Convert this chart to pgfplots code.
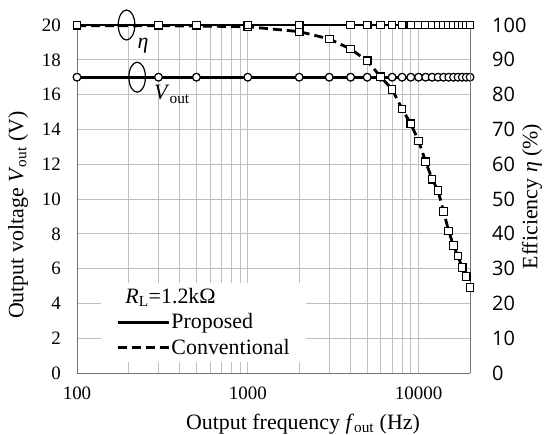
\documentclass[border=0pt]{standalone}
\usepackage{fontspec}
\setmainfont{Liberation Serif}
\newfontfamily\sansnum{Open Sans}
\usepackage{pgfplots}
\pgfplotsset{compat=1.18}

\pgfplotsset{
  prop/.style={black, line width=2.8bp, mark size=3.8bp,
    mark options={solid, fill=white, line width=1.1bp}},
  conv/.style={prop, dash pattern=on 9bp off 5bp},
}

\begin{document}
\begin{tikzpicture}
% left axis: output voltage
\begin{axis}[
  scale only axis, width=393bp, height=348bp,
  xmode=log, xmin=100, xmax=20000, clip=false,
  major tick length=0pt, minor tick length=0pt,
  /pgf/number format/assume math mode=true,
  tick label style={font=\fontsize{19}{22}\selectfont},
  label style={font=\fontsize{22}{26}\selectfont},
  axis line style={draw=gray!90!black, line width=0.8bp, -},
  ymin=0, ymax=20, ytick={0,2,...,20},
  axis x line*=bottom, axis y line*=left,
  xtick={100,1000,10000}, xticklabels={100,1000,10000},
  minor xtick={200,300,400,500,600,700,800,900,2000,3000,4000,5000,6000,7000,8000,9000},
  xmajorgrids, xminorgrids, ymajorgrids,
  grid style={draw=gray!50, line width=0.8bp},
  xticklabel style={anchor=base, inner sep=0pt, yshift=-26bp},
  yticklabel style={anchor=east, inner sep=0pt, xshift=-16bp},
  xlabel={Output frequency \textit{f}\textsubscript{out} (Hz)},
  xlabel style={at={(axis description cs:0.575,-0.161)}, anchor=base},
  ylabel={Output voltage \textit{V}\textsubscript{out} (V)},
  ylabel style={at={(axis description cs:-0.150,0.454)}, anchor=center},
]
% conventional Vout (under the proposed one)
\addplot[conv, mark=*] coordinates {
  (100,17) (300,17) (500,17) (1000,17) (2000,17) (3000,17) (4000,17)
  (5000,17) (6000,17) (7000,17) (8000,17) (9000,17) (10000,17)
  (11000,17) (12000,17) (13000,17) (14000,17) (15000,17) (16000,17)
  (17000,17) (18000,17) (19000,17) (20000,17)};
% proposed Vout
\addplot[prop, mark=*] coordinates {
  (100,17) (300,17) (500,17) (1000,17) (2000,17) (3000,17) (4000,17)
  (5000,17) (6000,17) (7000,17) (8000,17) (9000,17) (10000,17)
  (11000,17) (12000,17) (13000,17) (14000,17) (15000,17) (16000,17)
  (17000,17) (18000,17) (19000,17) (20000,17)};
% annotations
\draw[black, line width=1.2bp] (axis cs:195,20) ellipse [x radius=8.3bp, y radius=15bp];
\draw[black, line width=1.2bp] (axis cs:225,17) ellipse [x radius=8.3bp, y radius=15bp];
\node[font=\fontsize{22}{26}\selectfont] at (axis cs:244,18.8) {\textit{η}};
\node[font=\fontsize{22}{26}\selectfont, anchor=base west, inner sep=0pt]
  at (axis cs:282,15.69) {\textit{V}\textsubscript{out}};
\end{axis}
% right axis: efficiency
\begin{axis}[
  scale only axis, width=393bp, height=348bp,
  xmode=log, xmin=100, xmax=20000, clip=false,
  major tick length=0pt, minor tick length=0pt,
  label style={font=\fontsize{22}{26}\selectfont},
  axis line style={draw=gray!90!black, line width=0.8bp, -},
  ymin=0, ymax=100, ytick={0,10,...,100},
  axis x line=none, axis y line*=right,
  /pgf/number format/assume math mode=true,
  yticklabel style={anchor=west, inner sep=0pt, xshift=22bp,
    font=\fontsize{20}{24}\sansnum},
  ylabel={Efficiency \textit{η} (\%)},
  ylabel style={at={(axis description cs:1.158,0.507)}, anchor=center, inner sep=0pt},
  legend style={at={(axis description cs:0.061,0.032)}, anchor=south west,
    draw=none, fill=white, inner xsep=15bp, inner ysep=4bp,
    font=\fontsize{22}{26}\selectfont, row sep=4.5bp,
    nodes={inner xsep=1.5bp, inner ysep=2bp}},
  legend cell align=left,
  legend image code/.code={\draw[#1] (0bp,0bp) -- (51bp,0bp);},
]
% conventional efficiency
\addplot[conv, mark=square*, forget plot] coordinates {
  (100,99.8) (300,99.8) (500,99.7) (1000,99.5) (2000,98.1) (3000,96.0)
  (4000,93.1) (5000,89.7) (6000,85.1) (7000,81.5) (8000,75.9) (9000,71.6)
  (10000,66.7) (11000,60.7) (12000,55.7) (13000,52.4) (14000,46.4)
  (15000,40.8) (16000,36.6) (17000,33.6) (18000,30.3) (19000,27.7)
  (20000,24.6)};
% proposed efficiency
\addplot[prop, mark=square*, forget plot] coordinates {
  (100,100) (300,100) (500,100) (1000,100) (2000,100) (4000,100)
  (5000,100) (6000,100) (7000,100) (8000,100) (9000,100) (10000,100)
  (11000,100) (12000,100) (13000,100) (14000,100) (15000,100)
  (16000,100) (17000,100) (18000,100) (19000,100) (20000,100)};
\addlegendimage{empty legend}
\addlegendentry{\hspace{-46bp}\textit{R}\textsubscript{L}=1.2kΩ}
\addlegendimage{black, line width=2.8bp}
\addlegendentry{Proposed}
\addlegendimage{black, line width=2.8bp, dash pattern=on 9bp off 5bp}
\addlegendentry{Conventional}
\end{axis}
\pgfresetboundingbox
\path (-77bp,-62bp) rectangle (467bp,373bp);
\end{tikzpicture}
\end{document}
